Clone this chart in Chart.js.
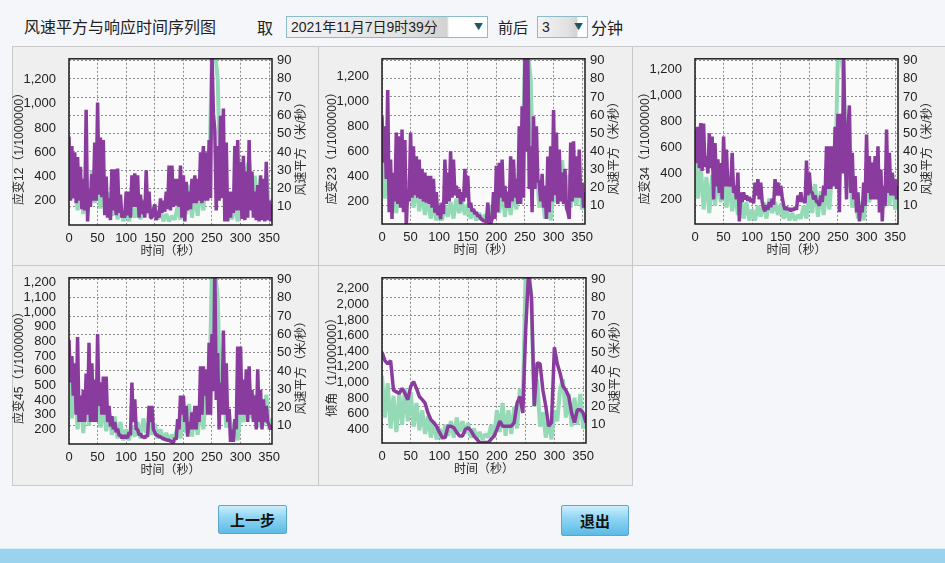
<!DOCTYPE html>
<html>
<head>
<meta charset="utf-8">
<script src="https://cdn.jsdelivr.net/npm/chart.js@4.4.1/dist/chart.umd.min.js"></script>
<style>
  body { margin: 0; width: 945px; height: 563px; background: #f4f6f9; position: relative; overflow: hidden;
         font-family: "Noto Sans CJK SC", "Liberation Sans", sans-serif; color: #222; }
  .abs { position: absolute; }
  .txt { font-size: 16px; line-height: 20px; white-space: nowrap; }
  .sel { position: absolute; height: 22px; box-sizing: border-box; border: 1px solid #8fbac8;
         background: linear-gradient(to right, #f3f3f3 0%, #e2e2e2 60%, #d2d2d2 80%, #ffffff 81%); }
  .sel span { position: absolute; left: 4px; top: 0; font-family: "Liberation Sans", "Noto Sans CJK SC", sans-serif;
              font-size: 14px; line-height: 20px; color: #222; white-space: nowrap; }
  .sel i { position: absolute; top: 0; font-style: normal; font-size: 9px; line-height: 19px; color: #1d5663; }
  .cell { position: absolute; box-sizing: border-box; border: 1px solid #c9c9c9; background: #efefef; }
  .ch { position: absolute; }
  .btn { position: absolute; box-sizing: border-box; border: 1px solid #5aa7cc; border-radius: 2px;
         background: linear-gradient(to bottom, #cdeefc 0%, #92d6f4 40%, #5cbbe6 100%);
         font-family: "Noto Sans CJK SC", sans-serif; font-weight: bold; font-size: 15px; color: #111;
         text-align: center; }
</style>
</head>
<body>
<div class="abs txt" style="left:24px;top:16px;">风速平方与响应时间序列图</div>
<div class="abs txt" style="left:257px;top:17px;">取</div>
<div class="sel" style="left:286px;top:16px;width:202px;"><span>2021年11月7日9时39分</span><i style="left:187px;">▼</i></div>
<div class="abs txt" style="left:498px;top:17px;font-size:15px;">前后</div>
<div class="sel" style="left:537px;top:16px;width:51px;"><span>3</span><i style="left:36px;">▼</i></div>
<div class="abs txt" style="left:591px;top:17px;">分钟</div>

<div class="cell" style="left:12px;top:46px;width:307px;height:220px;"></div>
<div class="cell" style="left:318px;top:46px;width:315px;height:220px;"></div>
<div class="cell" style="left:632px;top:46px;width:320px;height:220px;"></div>
<div class="cell" style="left:12px;top:265px;width:307px;height:221px;"></div>
<div class="cell" style="left:318px;top:265px;width:315px;height:221px;"></div>

<div class="ch" style="left:12px;top:46px;width:306px;height:219px;"><canvas id="c1"></canvas></div>
<div class="ch" style="left:318px;top:46px;width:314px;height:219px;"><canvas id="c2"></canvas></div>
<div class="ch" style="left:632px;top:46px;width:313px;height:219px;"><canvas id="c3"></canvas></div>
<div class="ch" style="left:12px;top:265px;width:306px;height:220px;"><canvas id="c4"></canvas></div>
<div class="ch" style="left:318px;top:265px;width:314px;height:220px;"><canvas id="c5"></canvas></div>

<div class="btn" style="left:218px;top:505px;width:69px;height:29px;line-height:27px;">上一步</div>
<div class="btn" style="left:561px;top:505px;width:68px;height:31px;line-height:29px;">退出</div>

<div class="abs" style="left:0;top:548px;width:945px;height:1px;background:#d6ecf7;"></div>
<div class="abs" style="left:0;top:549px;width:945px;height:14px;background:#9bd2ee;"></div>

<script>
// time in seconds, 5 s steps (wind, tilt)
const times = [0, 5, 10, 15, 20, 25, 30, 35, 40, 45, 50, 55, 60, 65, 70, 75, 80, 85, 90, 95,
  100, 105, 110, 115, 120, 125, 130, 135, 140, 145, 150, 155, 160, 165, 170, 175, 180, 185, 190, 195,
  200, 205, 210, 215, 220, 225, 230, 235, 240, 245, 250, 255, 260, 265, 270, 275, 280, 285, 290, 295,
  300, 305, 310, 315, 320, 325, 330, 335, 340, 345, 350, 355];

// time in seconds, 2.5 s steps (strains)
const timesFine = [0, 2.5, 5, 7.5, 10, 12.5, 15, 17.5,
  20, 22.5, 25, 27.5, 30, 32.5, 35, 37.5,
  40, 42.5, 45, 47.5, 50, 52.5, 55, 57.5,
  60, 62.5, 65, 67.5, 70, 72.5, 75, 77.5,
  80, 82.5, 85, 87.5, 90, 92.5, 95, 97.5,
  100, 102.5, 105, 107.5, 110, 112.5, 115, 117.5,
  120, 122.5, 125, 127.5, 130, 132.5, 135, 137.5,
  140, 142.5, 145, 147.5, 150, 152.5, 155, 157.5,
  160, 162.5, 165, 167.5, 170, 172.5, 175, 177.5,
  180, 182.5, 185, 187.5, 190, 192.5, 195, 197.5,
  200, 202.5, 205, 207.5, 210, 212.5, 215, 217.5,
  220, 222.5, 225, 227.5, 230, 232.5, 235, 237.5,
  240, 242.5, 245, 247.5, 250, 252.5, 255, 257.5,
  260, 262.5, 265, 267.5, 270, 272.5, 275, 277.5,
  280, 282.5, 285, 287.5, 290, 292.5, 295, 297.5,
  300, 302.5, 305, 307.5, 310, 312.5, 315, 317.5,
  320, 322.5, 325, 327.5, 330, 332.5, 335, 337.5,
  340, 342.5, 345, 347.5, 350, 352.5, 355];

// tick labels
const timeTicks = [0, 50, 100, 150, 200, 250, 300, 350];
const windTicks = [10, 20, 30, 40, 50, 60, 70, 80, 90];
const strainTicks = [200, 400, 600, 800, 1000, 1200];
const strain45Ticks = [200, 300, 400, 500, 600, 700, 800, 900, 1000, 1100, 1200];
const tiltTicks = [400, 600, 800, 1000, 1200, 1400, 1600, 1800, 2000, 2200];

// wind speed squared (right axis)
const windSq = [37, 14, 33, 8, 26, 6, 27, 10, 30, 12,
  28, 9, 22, 7, 18, 5, 15, 3, 12, 2,
  8, 2, 10, 4, 12, 3, 14, 6, 12, 5,
  11, 3, 8, 2, 6, 2, 5, 3, 10, 3,
  18, 6, 22, 4, 18, 5, 20, 8, 30, 22,
  95, 96, 80, 20, 35, 9, 17, 3, 12, 2,
  18, 12, 30, 35, 14, 27, 9, 25, 10, 27,
  8, 14];

// responses (left axis, 1/1000000)
const strain12 = [730, 200, 650, 220, 600, 180, 560, 200,
  480, 130, 380, 120, 950, 30, 300, 150,
  420, 200, 680, 200, 1010, 250, 720, 230,
  700, 80, 400, 60, 220, 40, 460, 120,
  460, 80, 465, 100, 250, 60, 110, 60,
  275, 80, 275, 60, 410, 150, 425, 150,
  410, 60, 250, 90, 200, 60, 450, 100,
  275, 60, 60, 120, 170, 40, 115, 60,
  220, 100, 200, 110, 275, 130, 490, 120,
  490, 150, 380, 160, 380, 150, 490, 60,
  410, 30, 355, 120, 275, 130, 380, 180,
  410, 180, 380, 200, 600, 180, 650, 200,
  600, 200, 700, 220, 1400, 920, 780, 120,
  650, 200, 900, 220, 960, 30, 680, 30,
  275, 60, 275, 100, 650, 120, 700, 120,
  520, 50, 570, 40, 440, 60, 700, 120,
  440, 60, 275, 40, 330, 30, 410, 40,
  380, 30, 520, 40, 200, 30, 170];

const strain23 = [880, 510, 800, 380, 1090, 115, 535, 60,
  430, 200, 750, 180, 720, 150, 775, 115,
  690, 0, 300, 200, 750, 230, 640, 250,
  560, 230, 535, 220, 460, 200, 430, 190,
  405, 180, 405, 150, 380, 110, 275, 90,
  170, 60, 190, 100, 535, 180, 430, 200,
  600, 230, 535, 250, 325, 230, 300, 180,
  275, 200, 460, 230, 405, 150, 190, 120,
  140, 100, 115, 80, 90, 60, 60, 40,
  50, 30, 190, 20, 20, 60, 275, 60,
  485, 115, 510, 230, 535, 200, 325, 150,
  275, 150, 560, 200, 535, 230, 380, 180,
  800, 180, 960, 230, 1400, 600, 1400, 300,
  640, 115, 880, 300, 800, 370, 350, 200,
  420, 150, 325, 60, 560, 115, 640, 200,
  930, 250, 750, 180, 615, 200, 430, 180,
  460, 150, 115, 60, 670, 200, 680, 230,
  560, 230, 615, 230, 350, 150, 275];

const strain34 = [740, 480, 760, 440, 790, 420, 785, 450,
  534, 400, 710, 440, 685, 200, 635, 300,
  510, 250, 480, 200, 685, 300, 585, 300,
  357, 300, 560, 250, 305, 200, 407, 30,
  255, 180, 255, 200, 230, 190, 218, 180,
  205, 170, 330, 230, 357, 200, 330, 180,
  130, 110, 155, 120, 180, 140, 205, 160,
  357, 230, 330, 230, 305, 218, 155, 120,
  140, 120, 130, 110, 130, 115, 140, 120,
  230, 180, 255, 180, 205, 170, 500, 230,
  407, 255, 255, 200, 230, 180, 180, 150,
  230, 180, 305, 230, 610, 280, 610, 280,
  610, 300, 760, 280, 860, 100, 860, 400,
  1300, 600, 200, 740, 925, 250, 560, 200,
  380, 100, 255, 30, 155, 100, 330, 150,
  700, 250, 535, 200, 485, 200, 535, 200,
  610, 100, 430, 30, 305, 150, 740, 250,
  560, 230, 407, 230, 357, 200, 305];

const strain45 = [810, 520, 700, 430, 650, 300, 830, 250,
  430, 250, 470, 250, 580, 300, 790, 250,
  650, 250, 540, 250, 850, 360, 520, 300,
  560, 300, 560, 250, 360, 220, 290, 200,
  250, 180, 205, 160, 160, 140, 160, 140,
  160, 140, 180, 160, 520, 250, 405, 200,
  200, 160, 170, 150, 150, 140, 160, 150,
  360, 250, 360, 200, 180, 160, 160, 150,
  150, 140, 140, 130, 130, 125, 125, 120,
  115, 110, 140, 130, 270, 200, 430, 300,
  430, 250, 360, 150, 250, 200, 315, 200,
  360, 200, 360, 250, 630, 300, 630, 430,
  610, 300, 790, 300, 850, 460, 1300, 400,
  720, 200, 520, 300, 875, 300, 650, 250,
  340, 115, 200, 115, 270, 200, 765, 300,
  765, 300, 540, 300, 610, 250, 630, 300,
  470, 250, 430, 200, 610, 250, 470, 200,
  405, 250, 360, 250, 230, 200, 230];

const tilt = [1390, 1280, 1240, 1280, 900, 880, 860, 925, 860, 780,
  950, 1010, 925, 820, 780, 735, 610, 525, 485, 440,
  360, 295, 295, 440, 440, 420, 360, 315, 315, 400,
  420, 380, 315, 275, 230, 230, 230, 230, 275, 315,
  400, 505, 440, 440, 440, 440, 485, 735, 820, 610,
  1660, 2400, 2100, 700, 1250, 1240, 900, 695, 440, 485,
  1450, 1240, 1115, 950, 900, 820, 610, 485, 650, 650,
  610, 485];

const tickFont = { family: '"Liberation Sans", Arial, sans-serif', size: 13 };
const titleFont = '12px "Liberation Sans", "Noto Sans CJK SC", sans-serif';
const gridColor = '#8e8e8e';

// plot background, frame and axis titles
const framePlugin = {
  id: 'frame',
  beforeDraw(chart) {
    const { ctx, chartArea: a } = chart;
    ctx.save();
    ctx.fillStyle = '#fafafa';
    ctx.fillRect(a.left, a.top, a.right - a.left, a.bottom - a.top);
    ctx.restore();
  },
  afterDraw(chart, args, opts) {
    const { ctx, chartArea: a } = chart;
    ctx.save();
    ctx.strokeStyle = '#1c1c1c';
    ctx.lineWidth = 1.5;
    ctx.strokeRect(a.left, a.top, a.right - a.left, a.bottom - a.top);

    ctx.fillStyle = '#2a2a2a';
    ctx.font = titleFont;
    ctx.textAlign = 'center';
    ctx.textBaseline = 'middle';
    const cy = (a.top + a.bottom) / 2 + 4;
    ctx.fillText('时间（秒）', (a.left + a.right) / 2, a.bottom + 27);

    ctx.save();
    ctx.translate(a.left - 49, cy);
    ctx.rotate(-Math.PI / 2);
    ctx.fillText(opts.left, 0, 0);
    ctx.restore();

    ctx.save();
    ctx.translate(a.right + 30, cy);
    ctx.rotate(-Math.PI / 2);
    ctx.fillText('风速平方（米/秒）', 0, 0);
    ctx.restore();
    ctx.restore();
  }
};

const useTicks = list => s => { s.ticks = list.map(v => ({ value: v })); };
const points = (xs, ys) => xs.map((x, i) => ({ x: x, y: ys[i] }));

function makeChart(id, xs, values, leftTitle, leftTicks, yMin, yMax, yWidth, y1Width, xHeight, padTop) {
  return new Chart(document.getElementById(id), {
    type: 'line',
    data: {
      datasets: [
        { data: points(xs, values), yAxisID: 'y', borderColor: '#8a3b9e', borderWidth: 3.5,
          pointRadius: 0, borderJoinStyle: 'bevel', tension: 0 },
        { data: points(times, windSq), yAxisID: 'y1', borderColor: '#95dab6', borderWidth: 4,
          pointRadius: 0, borderJoinStyle: 'bevel', tension: 0 }
      ]
    },
    options: {
      responsive: true,
      maintainAspectRatio: false,
      animation: false,
      locale: 'en-US',
      layout: { padding: { top: padTop, left: 0, right: 0, bottom: 0 } },
      plugins: {
        legend: { display: false },
        tooltip: { enabled: false },
        frame: { left: leftTitle }
      },
      scales: {
        x: {
          type: 'linear', min: 0, max: 355,
          ticks: { autoSkip: false, padding: 6, maxRotation: 0, color: '#222', font: tickFont },
          grid: { color: gridColor, drawTicks: false },
          border: { display: false, dash: [2, 2] },
          afterBuildTicks: useTicks(timeTicks),
          afterFit: s => { s.height = xHeight; }
        },
        y: {
          position: 'left', min: yMin, max: yMax,
          ticks: { autoSkip: false, padding: 5, color: '#222', font: tickFont },
          grid: { display: false },
          border: { display: false },
          afterBuildTicks: useTicks(leftTicks),
          afterFit: s => { s.width = yWidth; }
        },
        y1: {
          position: 'right', min: 0, max: 91,
          ticks: { autoSkip: false, padding: 5, color: '#222', font: tickFont },
          grid: { color: gridColor, drawTicks: false },
          border: { display: false, dash: [2, 2] },
          afterBuildTicks: useTicks(windTicks),
          afterFit: s => { s.width = y1Width; }
        }
      }
    },
    plugins: [framePlugin]
  });
}

makeChart('c1', timesFine, strain12, '应变12（1/1000000）', strainTicks, 0, 1370, 57, 46, 40, 10);
makeChart('c2', timesFine, strain23, '应变23（1/1000000）', strainTicks, 20, 1340, 64, 47, 41, 10);
makeChart('c3', timesFine, strain34, '应变34（1/1000000）', strainTicks, 10, 1285, 63, 47, 41, 10);
makeChart('c4', timesFine, strain45, '应变45（1/1000000）', strain45Ticks, 100, 1234, 57, 46, 41, 10);
makeChart('c5', times, tilt, '倾角（1/1000000）', tiltTicks, 225, 2340, 64, 46, 42, 10);
</script>
</body>
</html>
